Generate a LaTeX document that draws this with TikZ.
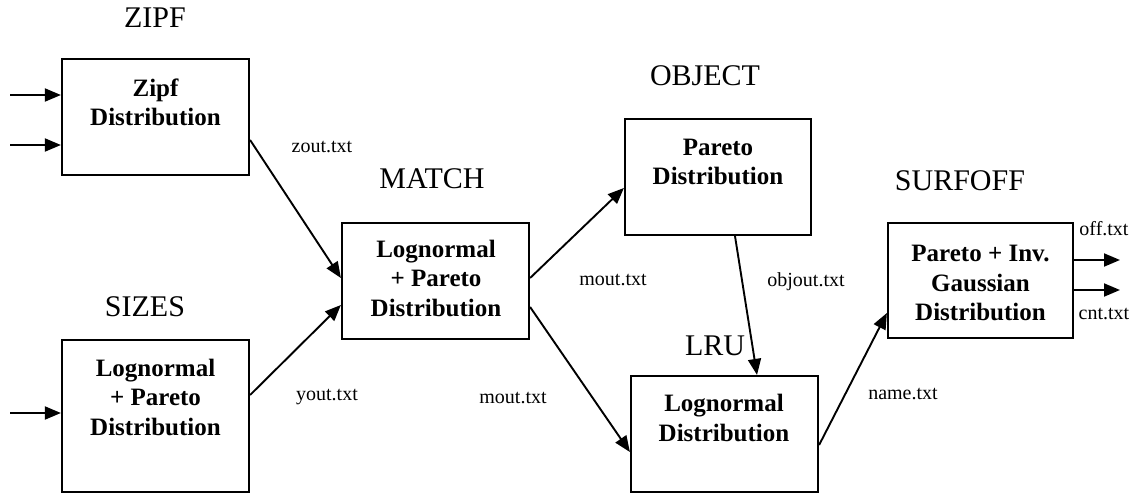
\documentclass[tikz,border=0pt]{standalone}
\usepackage{fontspec}
\setmainfont{Liberation Serif}
\usetikzlibrary{arrows.meta}
\begin{document}
\begin{tikzpicture}[x=1pt,y=-1pt,
  box/.style={draw,line width=2.2pt,inner sep=0pt},
  boxtext/.style={font=\fontsize{25}{29.5}\selectfont\bfseries,align=center,inner sep=0pt},
  title/.style={font=\fontsize{30}{34}\selectfont,inner sep=0pt},
  fname/.style={font=\fontsize{20}{24}\selectfont,inner sep=0pt},
  arr/.style={line width=1.9pt,-{Triangle[length=16pt,width=13pt]}}]
\useasboundingbox (0,0) rectangle (1136,493);
% boxes
\node[box,minimum width=187pt,minimum height=116pt] (zipf) at (155.5,117) {};
\node[box,minimum width=187pt,minimum height=152pt] (sizes) at (155.5,416) {};
\node[box,minimum width=187pt,minimum height=116pt] (match) at (435.5,281) {};
\node[box,minimum width=186pt,minimum height=116pt] (object) at (718,177) {};
\node[box,minimum width=187pt,minimum height=116pt] (lru) at (724.5,434) {};
\node[box,minimum width=185pt,minimum height=115pt] (surfoff) at (980.5,280.5) {};
% box texts
\node[boxtext] (zipft) at (155.5,102.5) {Zipf\\Distribution};
\node[boxtext] (sizest) at (155.5,397) {Lognormal\\+ Pareto\\Distribution};
\node[boxtext] (matcht) at (436,278) {Lognormal\\+ Pareto\\Distribution};
\node[boxtext] (objectt) at (718,162) {Pareto\\Distribution};
\node[boxtext] (lrut) at (724,418) {Lognormal\\Distribution};
\node[boxtext] (surfofft) at (980.5,283) {Pareto + Inv.\\Gaussian\\Distribution};
% titles
\node[title] (zipfl) at (155,18) {ZIPF};
\node[title] (sizesl) at (145,307) {SIZES};
\node[title] (matchl) at (432,179) {MATCH};
\node[title] (objectl) at (705,76) {OBJECT};
\node[title] (lrul) at (715,346) {LRU};
\node[title] (surfoffl) at (960,181) {SURFOFF};
% file names
\node[fname] (zout) at (322,147) {zout.txt};
\node[fname] (yout) at (327,397) {yout.txt};
\node[fname] (mout1) at (613,280) {mout.txt};
\node[fname] (mout2) at (513,398) {mout.txt};
\node[fname] (objout) at (806,282) {objout.txt};
\node[fname] (name) at (903,394) {name.txt};
\node[fname] (off) at (1104,229) {off.txt};
\node[fname] (cnt) at (1104,314) {cnt.txt};
% free ends
\coordinate (in1) at (10,95);
\coordinate (in2) at (10,145);
\coordinate (in3) at (10,413);
\coordinate (out1) at (1120,260);
\coordinate (out2) at (1120,290);
% connectors
\draw[arr] (in1) -- (in1 -| zipf.west);
\draw[arr] (in2) -- (in2 -| zipf.west);
\draw[arr] (in3) -- (in3 -| sizes.west);
\draw[arr] ([yshift=-23pt]zipf.east) -- ([yshift=3pt]match.west);
\draw[arr] ([yshift=21pt]sizes.east) -- ([yshift=-24pt]match.west);
\draw[arr] ([yshift=3pt]match.east) -- ([yshift=-11pt]object.west);
\draw[arr] ([yshift=-26pt]match.east) -- ([yshift=-18pt]lru.west);
\draw[arr] ([xshift=17pt]object.south) -- ([xshift=32.5pt]lru.north);
\draw[arr] ([yshift=-11pt]lru.east) -- ([yshift=-32.5pt]surfoff.west);
\draw[arr] ([yshift=20.5pt]surfoff.east) -- (out1);
\draw[arr] ([yshift=-9.5pt]surfoff.east) -- (out2);
\end{tikzpicture}
\end{document}
